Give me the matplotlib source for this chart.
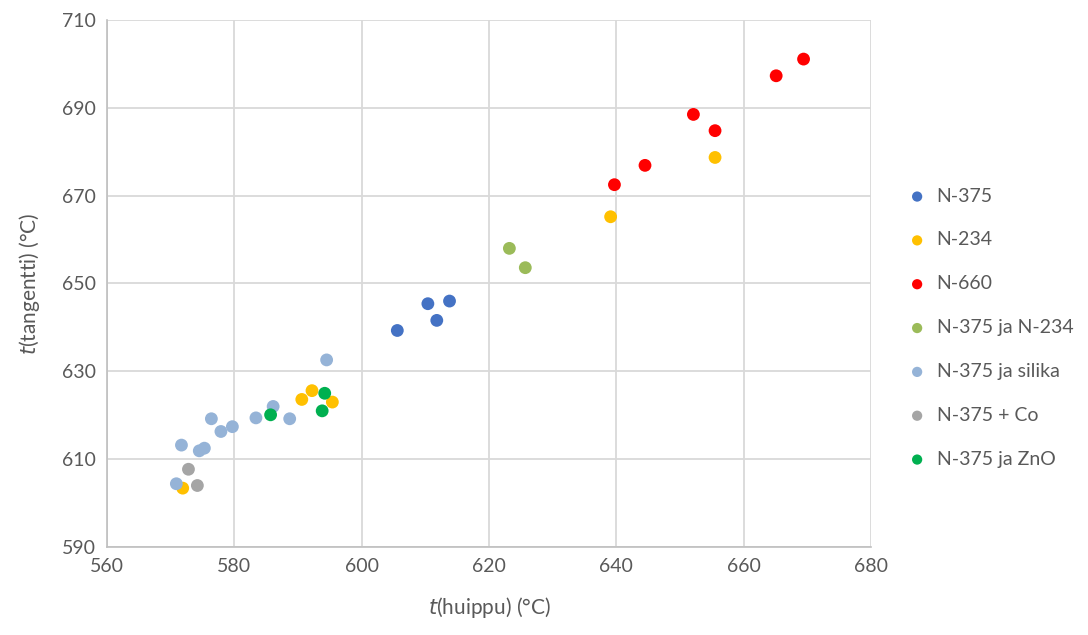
import matplotlib
matplotlib.use("Agg")
import matplotlib.pyplot as plt

plt.rcParams['font.family'] = ['Lato', 'DejaVu Sans']

# Sarjat: (t_huippu, t_tangentti)
n375_x = [605.6, 610.4, 613.8, 611.8]
n375_y = [639.3, 645.4, 646.0, 641.6]

n234_x = [571.9, 590.6, 592.2, 595.4, 639.1, 655.5]
n234_y = [603.4, 623.6, 625.6, 623.0, 665.2, 678.7]

n660_x = [639.7, 644.5, 652.1, 655.5, 665.1, 669.4]
n660_y = [672.5, 676.9, 688.5, 684.8, 697.3, 701.1]

n375_n234_x = [623.2, 625.7]
n375_n234_y = [658.0, 653.6]

silika_x = [594.5, 586.1, 576.4, 583.4, 588.7, 577.9, 579.7, 571.7, 574.5, 575.3, 570.9]
silika_y = [632.6, 622.0, 619.2, 619.4, 619.2, 616.3, 617.4, 613.2, 611.9, 612.5, 604.4]

co_x = [572.8, 574.2]
co_y = [607.7, 604.0]

zno_x = [585.7, 594.2, 593.8]
zno_y = [620.1, 625.0, 621.0]

series = [
    ("N-375", n375_x, n375_y, "#4472C4"),
    ("N-234", n234_x, n234_y, "#FFC000"),
    ("N-660", n660_x, n660_y, "#FF0000"),
    ("N-375 ja N-234", n375_n234_x, n375_n234_y, "#9BBB59"),
    ("N-375 ja silika", silika_x, silika_y, "#95B3D7"),
    ("N-375 + Co", co_x, co_y, "#A5A5A5"),
    ("N-375 ja ZnO", zno_x, zno_y, "#00B050"),
]

fig = plt.figure(figsize=(10.88, 6.35), dpi=100)
ax = fig.add_axes([0.0983, 0.1386, 0.7023, 0.8299])

for name, xs, ys, col in series:
    ax.scatter(xs, ys, s=85, color=col, edgecolors='none', label=name, zorder=3)

ax.set_xlim(560, 680)
ax.set_ylim(590, 710)
ax.set_xticks(range(560, 681, 20))
ax.set_yticks(range(590, 711, 20))

ax.grid(True, color='#D9D9D9', linewidth=1.3)
ax.set_axisbelow(True)
for s in ['top', 'right']:
    ax.spines[s].set_visible(False)
for s in ['left', 'bottom']:
    ax.spines[s].set_color('#BFBFBF')
    ax.spines[s].set_linewidth(1.2)
ax.tick_params(length=0, labelsize=14, labelcolor='#595959', pad=8)

ax.set_xlabel(r"$\mathit{t}$(huippu) (°C)", fontsize=15, color='#595959', labelpad=14)
ax.set_ylabel(r"$\mathit{t}$(tangentti) (°C)", fontsize=15, color='#595959', labelpad=14)

fig.legend(loc='center left', bbox_to_anchor=(0.809, 0.484), frameon=False,
           fontsize=14, labelcolor='#595959', handletextpad=0.0,
           labelspacing=1.38, markerscale=0.8, scatterpoints=1)

fig.savefig("out.png", dpi=100)
